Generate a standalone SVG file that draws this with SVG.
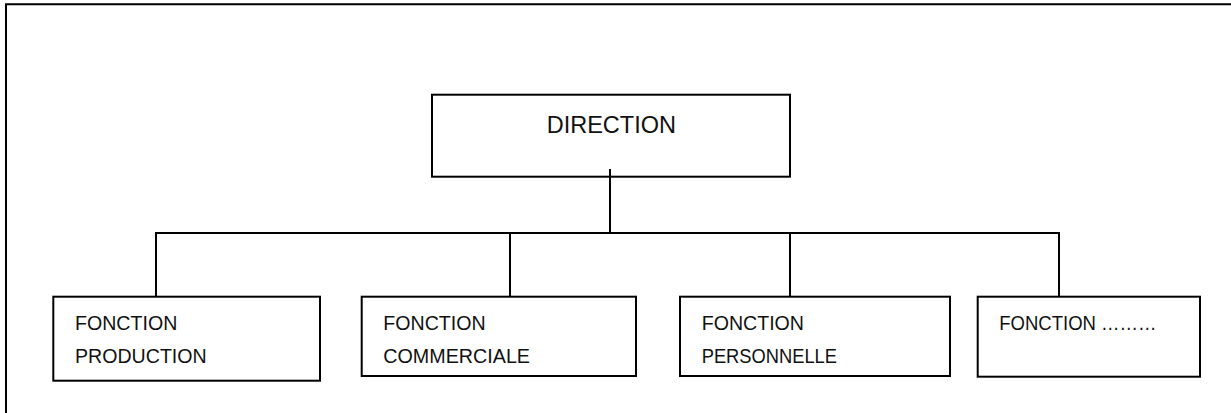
<svg xmlns="http://www.w3.org/2000/svg" width="1231" height="413" viewBox="0 0 1231 413">
  <style>
    .frame { fill: none; stroke: #000; stroke-width: 2; }
    .box { fill: #fff; stroke: #000; stroke-width: 2; }
    .link { fill: none; stroke: #000; stroke-width: 2; }
    .label { font-family: "Liberation Sans", Arial, sans-serif; font-size: 20px; fill: #111; }
    .title { font-family: "Liberation Sans", Arial, sans-serif; font-size: 23.5px; fill: #111; }
  </style>
  <rect width="1231" height="413" fill="#fff"/>

  <!-- page frame (top and left edges) -->
  <path class="frame" d="M6,413 V4.3 H1231"/>

  <!-- connectors -->
  <g id="connectors">
    <line class="link" x1="610" y1="169" x2="610" y2="233"/>
    <line class="link" x1="155" y1="233" x2="1060" y2="233"/>
    <line class="link" x1="156" y1="233" x2="156" y2="297"/>
    <line class="link" x1="510" y1="233" x2="510" y2="297"/>
    <line class="link" x1="790" y1="233" x2="790" y2="297"/>
    <line class="link" x1="1059" y1="233" x2="1059" y2="297"/>
  </g>

  <!-- top node -->
  <g id="direction">
    <rect class="box" x="432" y="94.7" width="358" height="82"/>
    <line class="link" x1="610" y1="169" x2="610" y2="177"/>
    <text class="title" x="546.7" y="132.7" textLength="129.3" lengthAdjust="spacingAndGlyphs">DIRECTION</text>
  </g>

  <!-- functions -->
  <g id="fonction-production">
    <rect class="box" x="53.3" y="296.7" width="266.7" height="84"/>
    <text class="label" x="75" y="330" textLength="102.3" lengthAdjust="spacingAndGlyphs">FONCTION</text>
    <text class="label" x="75" y="363.3" textLength="131.7" lengthAdjust="spacingAndGlyphs">PRODUCTION</text>
  </g>

  <g id="fonction-commerciale">
    <rect class="box" x="361.7" y="296.7" width="274.3" height="79.3"/>
    <text class="label" x="383.3" y="330" textLength="102.3" lengthAdjust="spacingAndGlyphs">FONCTION</text>
    <text class="label" x="383.3" y="363.3" textLength="146.7" lengthAdjust="spacingAndGlyphs">COMMERCIALE</text>
  </g>

  <g id="fonction-personnelle">
    <rect class="box" x="680" y="296.7" width="270" height="79.3"/>
    <text class="label" x="701.7" y="330" textLength="102.3" lengthAdjust="spacingAndGlyphs">FONCTION</text>
    <text class="label" x="701.7" y="363.3" textLength="135.3" lengthAdjust="spacingAndGlyphs">PERSONNELLE</text>
  </g>

  <g id="fonction-autre">
    <rect class="box" x="977.7" y="296.7" width="222.3" height="80"/>
    <text class="label" x="999.3" y="330" textLength="157.3" lengthAdjust="spacingAndGlyphs">FONCTION ………</text>
  </g>
</svg>
